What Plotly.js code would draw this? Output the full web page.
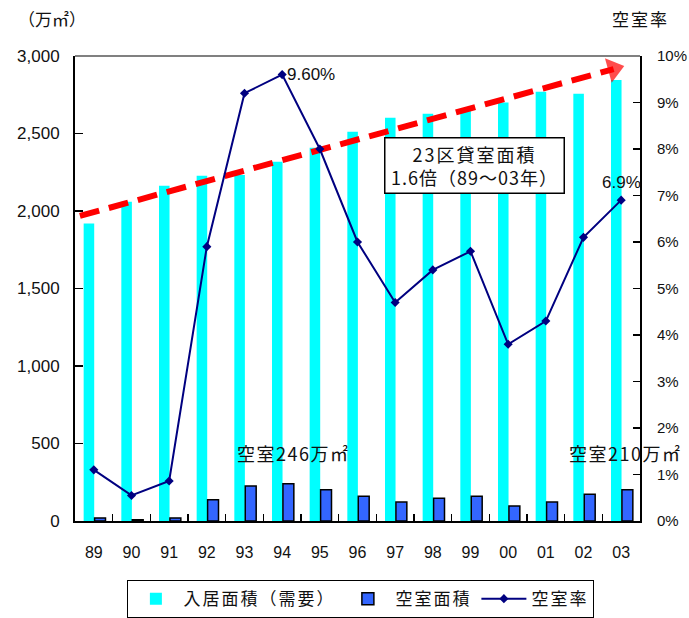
<!DOCTYPE html>
<html><head><meta charset="utf-8">
<script src="https://cdn.plot.ly/plotly-3.0.1.min.js"></script>
<style>body{margin:0;background:#fff}#c{width:689px;height:618px}</style>
</head><body><div id="c"></div>
<script>
const years = ["89","90","91","92","93","94","95","96","97","98","99","00","01","02","03"];
const occupiedArea = [1920,2060,2163,2228,2232,2318,2408,2512,2602,2628,2654,2700,2770,2757,2845];
const vacantArea = [20,8,20,137,226,240,202,160,122,147,160,97,122,173,202];
const vacancyRate = [1.1,0.55,0.86,5.9,9.2,9.6,8.0,6.0,4.7,5.4,5.8,3.8,4.3,6.1,6.9];
const rateTicks = [0,1,2,3,4,5,6,7,8,9,10];
const areaTicks = [0,500,1000,1500,2000,2500,3000];
const trendX = [-0.37, 13.8];
const trendY = [1968, 2916];
const idx = years.map((_, i) => i);
const bounds = years.concat([""]).map((_, i) => i - 0.5);

const F = "Liberation Sans, Arial, Noto Sans CJK JP, sans-serif";
const FJ = "Noto Sans CJK JP, Liberation Sans, sans-serif";
const sp = (t, px) => "<span style='letter-spacing:" + px + "px'>" + t + "</span>";

const traces = [
  {type:"bar", name:sp("入居面積（需要）", 2), x:idx, y:occupiedArea, offset:-0.27, width:0.28,
   marker:{color:"#00ffff", line:{width:0}}},
  {type:"bar", name:sp("空室面積", 2), x:idx, y:vacantArea, offset:0.02, width:0.29,
   marker:{color:"#3366ff", line:{color:"#000", width:1.5}}},
  {type:"scatter", mode:"lines", x:trendX, y:trendY, showlegend:false, hoverinfo:"skip",
   line:{color:"#ff0000", width:6, dash:"20px,10px"}},
  {type:"scatter", mode:"markers", x:trendX, y:trendY, showlegend:false, hoverinfo:"skip",
   marker:{symbol:"triangle-up", angleref:"previous", size:[0,22], color:"#ff0000", line:{width:0}}},
  {type:"scatter", mode:"lines+markers", name:sp("空室率", 2), x:idx, y:vacancyRate, yaxis:"y2",
   line:{color:"#000080", width:2}, marker:{symbol:"diamond", size:7, color:"#000080"}},
  {type:"scatter", mode:"markers", x:idx, y:vacancyRate, xaxis:"x2", yaxis:"y2", showlegend:false,
   marker:{opacity:0}, hoverinfo:"skip"}
];

const layout = {
  width:689, height:618,
  margin:{l:75, r:49, t:56, b:97, autoexpand:false},
  paper_bgcolor:"#fff", plot_bgcolor:"#fff",
  font:{family:F, size:16, color:"#111"},
  barmode:"overlay",
  showlegend:true,
  legend:{orientation:"h", x:0.506, xanchor:"center", y:-0.168, yanchor:"middle",
    bordercolor:"#000", borderwidth:1, font:{family:FJ, size:17, color:"#111"},
    traceorder:"normal", itemwidth:45, tracegroupgap:0},
  xaxis:{range:[-0.5,14.5], tickmode:"array", tickvals:idx, ticktext:years, ticks:"",
    showline:true, linecolor:"#000", linewidth:2, showgrid:false, zeroline:false,
    ticklabelstandoff:16, tickfont:{family:F, size:16}},
  xaxis2:{range:[-0.5,14.5], overlaying:"x", anchor:"y", side:"bottom", tickmode:"array",
    tickvals:bounds, showticklabels:false, ticks:"inside", ticklen:7, tickwidth:1.5, tickcolor:"#000",
    showgrid:false, zeroline:false, showline:false},
  yaxis:{range:[0,3000], tickmode:"array", tickvals:areaTicks,
    ticktext:areaTicks.map(v => v.toLocaleString("en-US")), ticks:"inside", ticklen:8, tickwidth:1.5, tickcolor:"#000",
    showline:true, linecolor:"#000", linewidth:2, showgrid:false, zeroline:false,
    ticklabelstandoff:10, tickfont:{family:F, size:17}},
  yaxis2:{range:[0,10], overlaying:"y", side:"right", tickmode:"array",
    tickvals:rateTicks, ticktext:rateTicks.map(v => v + "%"), ticks:"inside", ticklen:7, tickwidth:1.5,
    tickcolor:"#000", showline:true, linecolor:"#000", linewidth:2, showgrid:false, zeroline:false,
    ticklabelstandoff:12, tickfont:{family:F, size:15}},
  shapes:[{type:"line", xref:"paper", yref:"paper", x0:0, x1:1, y0:1, y1:1, line:{color:"#808080", width:2}}],
  annotations:[
    {xref:"paper", yref:"paper", x:-0.105, y:1.05, xanchor:"left", yanchor:"bottom", showarrow:false,
     text:"（万㎡）", font:{family:FJ, size:17, color:"#111"}},
    {xref:"paper", yref:"paper", x:1.0, y:1.05, xanchor:"center", yanchor:"bottom", showarrow:false,
     text:sp("空室率", 2), font:{family:FJ, size:17, color:"#111"}},
    {x:5, y:vacancyRate[5], yref:"y2", xanchor:"left", yanchor:"middle", xshift:3, showarrow:false,
     text:"9.60%", font:{family:F, size:17, color:"#111"}},
    {x:14, y:vacancyRate[14], yref:"y2", xanchor:"center", yanchor:"bottom", yshift:6, showarrow:false,
     text:"6.9%", font:{family:F, size:17, color:"#111"}},
    {x:5.3, y:440, xanchor:"center", yanchor:"middle", showarrow:false,
     text:sp("空室246万㎡", 1.5), font:{family:FJ, size:18, color:"#111"}},
    {x:14.1, y:440, xanchor:"center", yanchor:"middle", showarrow:false,
     text:sp("空室210万㎡", 1.5), font:{family:FJ, size:18, color:"#111"}},
    {x:10.1, y:2296, xanchor:"center", yanchor:"middle", showarrow:false,
     text:sp("23区貸室面積", 2) + "<br>" + sp("1.6倍（89～03年）", 1), align:"center",
     width:174, height:50,
     font:{family:FJ, size:18, color:"#111"}, bgcolor:"#fff", bordercolor:"#000", borderwidth:1.5, borderpad:2}
  ]
};

Plotly.newPlot("c", traces, layout, {displayModeBar:false, staticPlot:true});
</script></body></html>
